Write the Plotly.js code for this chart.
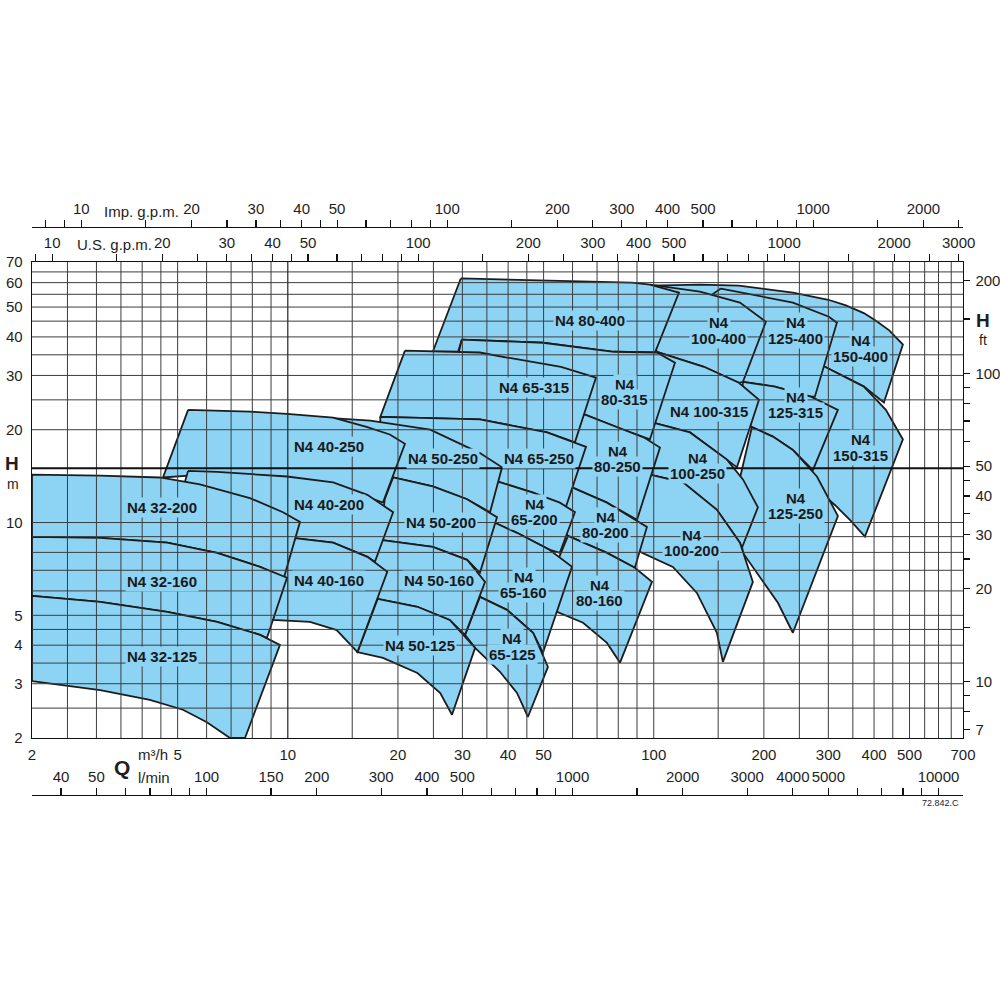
<!DOCTYPE html>
<html><head><meta charset="utf-8">
<script src="https://cdn.plot.ly/plotly-3.0.1.min.js"></script>
<style>html,body{margin:0;padding:0;background:#fff}#chart{width:1000px;height:1000px}</style>
</head><body><div id="chart"></div>
<script>
// ---- axis ranges (Q in m3/h, H in m)
const qRange = [2, 700];
const hRange = [2, 70];

// ---- gridlines and tick labels
const qGrid = [2.5,3,3.5,4,4.5,5,6,7,8,9,15,20,25,30,35,40,45,50,60,70,80,90,100,150,200,250,300,350,400,450,500,550,600,650];
const qGridBold = [10];
const hGrid = [2.5,3,3.5,4,4.5,5,6,7,8,9,10,20,25,30,35,40,45,50,55,60,65];
const hGridBold = [15];
const qTicks = [2,5,10,20,30,40,50,100,200,300,400,500,700];
const hTicks = [2,3,4,5,10,20,30,40,50,60,70];
const ftTicks = [7,8,9,10,15,20,25,30,35,40,45,50,60,70,80,90,100,150,200];
const ftLabels = [7,10,20,30,40,50,100,200];
const usTicks = [9,10,15,20,25,30,35,40,45,50,60,70,80,90,100,150,200,250,300,350,400,500,600,700,800,900,1000,1500,2000,2500,3000];
const usLabels = [10,20,30,40,50,100,200,300,400,500,1000,2000,3000];
const impTicks = [8,9,10,15,20,25,30,35,40,45,50,60,70,80,90,100,150,200,250,300,350,400,500,600,700,800,900,1000,1500,2000,2500];
const impLabels = [10,20,30,40,50,100,200,300,400,500,1000,2000];
const lminTicks = [40,50,60,70,80,90,100,150,200,300,400,500,600,700,800,900,1000,1500,2000,3000,4000,5000,6000,7000,8000,9000,10000];
const lminLabels = [40,50,100,150,200,300,400,500,1000,2000,3000,4000,5000,10000];

// ---- unit factors
const US_GPM = 4.402868, IMP_GPM = 3.666154, L_MIN = 16.66667, FT = 3.28084;

// ---- pump zones: outline points (Q m3/h, H m)
const q_150_400 = [97.6,133.7,170.9,240,300,335,375,402,440,479.6,425.6,375.2,286.2,195];
const h_150_400 = [58.7,59.1,58.7,55.7,52.8,50.6,47.8,45.4,42.0,37.8,24.5,27.6,32.5,39.2];
const q_150_315 = [286.2,375.2,430.8,479.6,377.6,343.6,312.6,275.6,235.5,250.8];
const h_150_315 = [32.5,27.6,23.2,18.6,9.0,10.2,11.4,13.0,14.8,21.6];
const q_125_400 = [152.6,240,301,316.6,275.6,268.8,214.3,175.3,151.7,138.0];
const h_125_400 = [57.4,51.7,46.5,44.5,25.6,25.6,27.6,28.6,39.2,52.9];
const q_125_315 = [175.3,214.3,268.8,318.6,272.2,240,211.6,185.5,172];
const h_125_315 = [28.6,27.6,25.6,23.2,14.8,17.2,19.0,20.4,21.6];
const q_125_250 = [185.5,211.6,240,279.2,318.6,240,218.4,195,175.3,166.7];
const h_125_250 = [20.4,19.0,17.2,14.1,10.5,4.39,5.49,6.67,7.97,11.9];
const q_100_400 = [97.6,133.7,172,202.5,175.3,170.9,137.1,102,91.7];
const h_100_400 = [59.1,56.1,51.7,44.8,28.6,28.4,32.0,35.8,45.5];
const q_100_315 = [102,137.1,170.9,193.9,168.8,158.5,125.6,99.5,91.7];
const h_100_315 = [35.8,32.0,28.4,25.0,15.1,16.0,19.6,21.1,25.0];
const q_100_250 = [99.5,125.6,158.5,175.3,192.6,174.2,172,148.8,120.2,97.6,91.7];
const h_100_250 = [21.1,19.6,16.0,13.8,11.2,8.28,8.60,11.0,13.5,14.3,17.2];
const q_100_200 = [97.6,120.2,148.8,172,186.6,154.5,148.8,131.2,112.8,91.7,86.1];
const h_100_200 = [14.3,13.5,11.0,8.60,6.42,3.53,4.39,5.91,7.18,8.03,10.2];
const q_80_400 = [29.7,55.8,87.2,97.6,117.2,100.8,77.8,49.8,29.9,29.2,24.9];
const h_80_400 = [61.9,60.9,60.0,59.1,55.7,35.6,35.8,38.3,39.2,35.8,35.8];
const q_80_315 = [29.9,49.8,77.8,102,114.3,97.6,82.4,64.9,55.4,29.2];
const h_80_315 = [39.2,38.3,35.8,35.6,33.0,18.6,20.0,22.4,25.0,35.0];
const q_80_250 = [64.9,82.4,94.6,104,90.0,74.5,59.8,55.4,59.0];
const h_80_250 = [22.4,20.0,18.8,17.5,10.2,11.6,13.0,14.8,21.6];
const q_80_200 = [59.8,74.5,95.8,88.8,74.5,58.3,53.7];
const h_80_200 = [13.0,11.6,9.68,7.13,7.97,9.05,10.2];
const q_80_160 = [58.3,74.5,88.8,98.9,80.9,74.5,64.1,54.4,52.0];
const h_80_160 = [9.05,7.97,7.13,6.42,3.51,4.07,4.73,5.13,6.52];
const q_65_315 = [20.9,33.5,39.7,55.8,69.5,60.9,51.1,33.5,17.9];
const h_65_315 = [36.1,35.6,34.3,32.0,29.5,18.2,19.6,21.6,22.0];
const q_65_250 = [17.9,33.5,51.1,65.3,57.5,46.8,37.3,29.5,17.9];
const h_65_250 = [22.0,21.6,19.6,17.6,11.2,12.5,13.6,16.0,20.0];
const q_65_200 = [37.3,46.8,55.4,60.9,55.4,52.0,42.3,36.8,33.5];
const h_65_200 = [13.6,12.5,11.6,10.8,7.97,8.15,9.26,9.98,11.9];
const q_65_160 = [36.8,42.3,52.0,59.8,49.8,46.8,39.7,33.5,32.5];
const h_65_160 = [9.98,9.26,8.15,7.18,3.78,4.39,5.21,5.74,6.76];
const q_65_125 = [33.5,39.7,46.8,51.4,45.3,42.3,38.0,32.5,30.5];
const h_65_125 = [5.74,5.21,4.39,3.40,2.34,2.80,3.28,3.92,4.32];
const q_50_250 = [11.7,16.8,24.5,33.5,38.5,35.7,30.9,24.9,19.4,15.8];
const h_50_250 = [22.0,21.4,20.0,16.8,15.1,10.8,11.9,13.1,14.0,16.0];
const q_50_200 = [19.4,24.9,30.9,37.3,33.5,30.9,24.9,17.9,18.4];
const h_50_200 = [14.0,13.1,11.9,10.4,6.87,7.57,8.34,8.79,11.9];
const q_50_160 = [17.9,24.9,30.9,34.6,30.5,27.7,22.6,17.6,16.8,16.8];
const h_50_160 = [8.79,8.34,7.57,6.42,4.32,4.83,5.33,5.65,5.61,8.47];
const q_50_125 = [17.6,22.6,27.7,32.5,28.1,26.1,22.6,18.2,15.5];
const h_50_125 = [5.65,5.33,4.83,3.92,2.38,2.80,3.25,3.64,3.80];
const q_40_250 = [5.34,7.88,9.95,13.3,16.5,19.0,20.9,18.2,16.5,13.3,9.95,6.41,4.56];
const h_40_250 = [23.2,22.9,22.5,21.9,20.4,19.3,18.0,11.6,12.1,13.3,13.9,14.4,14.0];
const q_40_200 = [5.34,6.41,9.95,13.3,16.5,19.4,17.3,16.5,13.3,10.3,8.40,5.24];
const h_40_200 = [14.7,14.6,14.1,13.5,12.3,10.8,7.46,7.74,8.60,8.92,9.61,13.6];
const q_40_160 = [10.3,13.3,16.5,18.7,15.5,13.6,11.5,9.11];
const h_40_160 = [8.92,8.60,7.74,6.92,3.80,4.48,4.76,4.83];
const q_32_200 = [2,3.07,4.47,5.75,7.88,9.70,10.8,9.76,8.40,6.41,4.68,3.07,2];
const h_32_200 = [14.3,14.2,14.0,13.3,12.0,10.8,10.05,6.62,7.18,7.97,8.60,8.92,8.99];
const q_32_160 = [2,3.07,4.68,6.41,8.40,9.95,8.77,8.40,6.41,4.68,3.07,2];
const h_32_160 = [8.99,8.92,8.60,7.97,7.18,6.62,4.22,4.32,4.76,5.13,5.53,5.78];
const q_32_125 = [2,3.07,4.68,6.41,8.40,9.52,7.64,6.95,6.01,5.17,4.2,3.07,2];
const h_32_125 = [5.78,5.53,5.13,4.76,4.32,4.01,2,2,2.25,2.47,2.66,2.86,3.06];

// drawing order: larger pumps first, smaller ones on top
const zones = [
  [q_150_400,h_150_400],[q_150_315,h_150_315],
  [q_125_400,h_125_400],[q_125_315,h_125_315],[q_125_250,h_125_250],
  [q_100_400,h_100_400],[q_100_315,h_100_315],[q_100_250,h_100_250],[q_100_200,h_100_200],
  [q_80_400,h_80_400],[q_80_315,h_80_315],[q_80_250,h_80_250],[q_80_200,h_80_200],[q_80_160,h_80_160],
  [q_65_315,h_65_315],[q_65_250,h_65_250],[q_65_200,h_65_200],[q_65_160,h_65_160],[q_65_125,h_65_125],
  [q_50_250,h_50_250],[q_50_200,h_50_200],[q_50_160,h_50_160],[q_50_125,h_50_125],
  [q_40_250,h_40_250],[q_40_200,h_40_200],[q_40_160,h_40_160],
  [q_32_200,h_32_200],[q_32_160,h_32_160],[q_32_125,h_32_125]
];

// ---- zone labels
const labelText = ['N4 32-200','N4 32-160','N4 32-125','N4 40-250','N4 40-200','N4 40-160',
 'N4 50-250','N4 50-200','N4 50-160','N4 50-125','N4 65-315','N4 65-250',
 'N4','65-200','N4','65-160','N4','65-125','N4 80-400','N4','80-315','N4','80-250',
 'N4','80-200','N4','80-160','N4','100-400','N4 100-315','N4','100-250','N4','100-200',
 'N4','125-400','N4','125-315','N4','125-250','N4','150-400','N4','150-315'];
const labelQ = [4.53,4.53,4.53,13.0,13.0,13.0,
 26.5,26.2,25.9,23.0,47.1,48.6,
 47.3,47.3,44.2,44.2,41.0,41.0,66.9,83.4,83.4,79.8,79.8,
 74.0,74.0,71.3,71.3,150.7,150.7,141.5,132,132,127,127,
 244.6,244.6,244.6,244.6,244.6,244.6,368,368,368,368];
const labelH = [11.16,6.42,3.69,17.7,11.4,6.47,
 16.1,10.0,6.47,3.98,27.4,16.1,
 11.4,10.2,6.61,5.91,4.19,3.72,45.2,28.0,25.0,16.97,15.2,
 10.36,9.26,6.23,5.57,44.5,39.5,22.9,16.1,14.4,9.05,8.09,
 44.5,39.5,25.4,22.7,11.94,10.67,38.9,34.5,18.6,16.46];

const FILL = '#8dd3f4';
const EDGE = '#1c1c1c';
const GRID = '#3d3d3d';
const FONT = 'Liberation Sans, Arial, Helvetica, sans-serif';
const lg = Math.log10;

const traces = [];
zones.forEach(([q,h]) => {
  traces.push({type:'scatter', mode:'lines', x:q.concat([q[0]]), y:h.concat([h[0]]),
    fill:'toself', fillcolor:FILL, line:{color:EDGE, width:1.8}, hoverinfo:'skip', showlegend:false});
});
// gridlines drawn above the zones (as in the reference)
function vLines(vals){const x=[],y=[];vals.forEach(v=>{x.push(v,v,null);y.push(hRange[0],hRange[1],null);});return {x,y};}
function hLines(vals){const x=[],y=[];vals.forEach(v=>{x.push(qRange[0],qRange[1],null);y.push(v,v,null);});return {x,y};}
const vg = vLines(qGrid), vb = vLines(qGridBold), hg = hLines(hGrid), hb = hLines(hGridBold);
const gridTrace = (g, color, width) => ({type:'scatter',mode:'lines',x:g.x,y:g.y,line:{color:color,width:width},hoverinfo:'skip',showlegend:false,connectgaps:false});
traces.push(gridTrace(vg, GRID, 1));
traces.push(gridTrace(hg, GRID, 1));
traces.push(gridTrace(vb, '#2a2a2a', 1.25));
traces.push(gridTrace(hb, '#111', 1.8));
// dummy traces so that the secondary scales exist
const ghost = {mode:'markers', marker:{opacity:0,size:1}, hoverinfo:'skip', showlegend:false, type:'scatter'};
traces.push(Object.assign({}, ghost, {x:qRange.map(v=>v*US_GPM), y:hRange, xaxis:'x2', yaxis:'y'}));
traces.push(Object.assign({}, ghost, {x:qRange.map(v=>v*IMP_GPM), y:hRange, xaxis:'x3', yaxis:'y'}));
traces.push(Object.assign({}, ghost, {x:qRange.map(v=>v*L_MIN), y:hRange, xaxis:'x4', yaxis:'y'}));
traces.push(Object.assign({}, ghost, {x:qRange, y:hRange.map(v=>v*FT), xaxis:'x', yaxis:'y2'}));

const DOMX = [0.032, 0.963], DOMY = [0.262, 0.738];
const tickFont = {family:FONT, size:15, color:'#1e1e1e'};
function labelsFor(ticks, labels){return ticks.map(t => labels.includes(t) ? String(t) : '');}
const baseAx = {type:'log', autorange:false, showgrid:false, zeroline:false, showline:true,
  linecolor:'#111', linewidth:1.4, tickmode:'array', tickfont:tickFont, tickcolor:'#111', tickwidth:1.2};

const layout = {
  width:1000, height:1000, margin:{l:0,r:0,t:0,b:0},
  paper_bgcolor:'#fff', plot_bgcolor:'#fff', showlegend:false,
  font:{family:FONT, size:15, color:'#1e1e1e'},
  xaxis: Object.assign({}, baseAx, {domain:DOMX, anchor:'y', range:qRange.map(lg),
    tickvals:qTicks, ticktext:qTicks.map(String), ticks:'', ticklabelstandoff:3}),
  yaxis: Object.assign({}, baseAx, {domain:DOMY, anchor:'x', range:hRange.map(lg),
    tickvals:hTicks, ticktext:hTicks.map(String), ticks:'', ticklabelstandoff:5}),
  yaxis2: Object.assign({}, baseAx, {domain:DOMY, anchor:'x', overlaying:'y', side:'right',
    range:hRange.map(v=>lg(v*FT)), tickvals:ftTicks, ticktext:labelsFor(ftTicks, ftLabels),
    ticks:'outside', ticklen:6, ticklabelstandoff:2}),
  xaxis2: Object.assign({}, baseAx, {domain:DOMX, anchor:'y', overlaying:'x', side:'top',
    range:qRange.map(v=>lg(v*US_GPM)), tickvals:usTicks, ticktext:labelsFor(usTicks, usLabels),
    ticks:'outside', ticklen:7, ticklabelstandoff:0}),
  xaxis3: Object.assign({}, baseAx, {domain:DOMX, anchor:'free', position:0.773, overlaying:'x', side:'top',
    range:qRange.map(v=>lg(v*IMP_GPM)), tickvals:impTicks, ticktext:labelsFor(impTicks, impLabels),
    ticks:'outside', ticklen:7, ticklabelstandoff:0}),
  xaxis4: Object.assign({}, baseAx, {domain:DOMX, anchor:'free', position:0.205, overlaying:'x', side:'top',
    range:qRange.map(v=>lg(v*L_MIN)), tickvals:lminTicks, ticktext:labelsFor(lminTicks, lminLabels),
    ticks:'outside', ticklen:7, ticklabelstandoff:0}),
  annotations: []
};

labelText.forEach((t,i) => {
  layout.annotations.push({xref:'x', yref:'y', x:lg(labelQ[i]), y:lg(labelH[i]), text:'<b>'+t+'</b>',
    showarrow:false, bgcolor:FILL, borderpad:1, font:{family:FONT, size:15, color:'#1a1a1a'},
    xanchor:'center', yanchor:'middle'});
});
function paperText(text, px, py, size, anchor, bold){
  layout.annotations.push({xref:'paper', yref:'paper', x:px/1000, y:1-py/1000,
    text: bold ? '<b>'+text+'</b>' : text, showarrow:false, xanchor:anchor||'center', yanchor:'middle',
    font:{family:FONT, size:size, color:'#1e1e1e'}});
}
paperText('Imp. g.p.m.', 141, 212, 15);
paperText('U.S. g.p.m.', 114, 244, 15);
paperText('H', 12, 464, 19, 'center', true);
paperText('m', 13, 484, 14);
paperText('H', 983, 320, 19, 'center', true);
paperText('ft', 983, 340, 14);
paperText('Q', 122, 767, 21, 'center', true);
paperText('m³/h', 136, 754, 15, 'left');
paperText('l/min', 136, 777, 15, 'left');
paperText('72.842.C', 961, 803, 9, 'right');

Plotly.newPlot('chart', traces, layout, {staticPlot:true, displayModeBar:false});
</script></body></html>
